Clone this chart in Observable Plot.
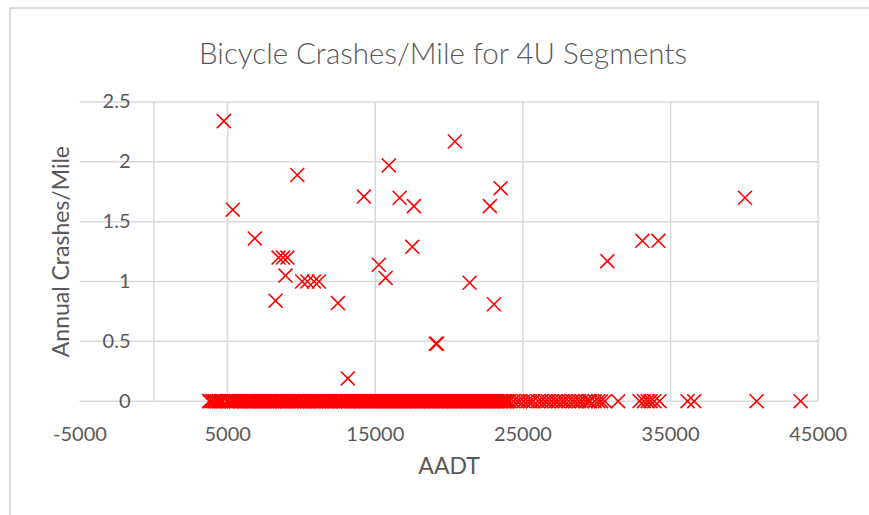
<!DOCTYPE html>
<html><head><meta charset="utf-8">
<script src="https://cdn.jsdelivr.net/npm/d3@7"></script>
<script src="https://cdn.jsdelivr.net/npm/@observablehq/plot@0.6"></script>
<style>
body{margin:0;background:#fff;width:869px;height:515px;overflow:hidden;position:relative;font-family:Lato,"Open Sans",sans-serif;}
#frame{position:absolute;left:9px;top:7px;width:900px;height:560px;border-left:2px solid #d9d9d9;border-top:2px solid #d9d9d9;}
#title{position:absolute;left:0;top:38px;width:886px;text-align:center;font-size:29.5px;font-weight:300;color:#595959;line-height:30px;white-space:nowrap;}
#chart{position:absolute;left:0;top:0;}
</style></head><body>
<div id="frame"></div>
<div id="title">Bicycle Crashes/Mile for 4U Segments</div>
<div id="chart"></div>
<script>
// Axis ticks
const xTicks = [-5000, 5000, 15000, 25000, 35000, 45000];
const xGridTicks = [5000, 15000, 25000, 35000, 45000];
const yTicks = [0, 0.5, 1, 1.5, 2, 2.5];

// Segments with at least one crash: AADT and annual crashes per mile
const crashAadt = [4740, 9716, 5350, 15920, 14230, 16650, 6840, 20390, 23490, 17615, 22765, 17505,
  8450, 8750, 9050, 8920, 10050, 10400, 10850, 11180, 8245, 12470, 13140, 15240, 15700,
  21390, 23040, 19100, 19180, 30720, 40040, 33090, 34170];
const crashRate = [2.34, 1.89, 1.60, 1.97, 1.71, 1.70, 1.36, 2.17, 1.78, 1.63, 1.63, 1.29,
  1.20, 1.20, 1.20, 1.05, 1.00, 1.00, 1.00, 1.00, 0.84, 0.82, 0.19, 1.14, 1.03,
  0.99, 0.81, 0.48, 0.48, 1.17, 1.70, 1.34, 1.34];

// Segments with zero crashes: AADT only (rate 0)
const zeroAadt = [3750, 3820, 3960, 4050, 4130, 4270, 4390, 4440, 4560, 4680, 4940, 5020, 5110, 5240, 5300,
  5420, 5560, 5610, 5730, 5850, 5920, 6060, 6150, 6230, 6370, 6450, 6590, 6640, 6780, 6890, 6950,
  7080, 7200, 7260, 7390, 7510, 7580, 7700, 7830, 7900, 8010, 8140, 8220, 8350, 8430, 8560, 8690,
  8740, 8870, 8990, 9050, 9180, 9310, 9390, 9500, 9620, 9710, 9840, 9920, 10040, 10170, 10230,
  10360, 10480, 10550, 10670, 10790, 10860, 10990, 11080, 11200, 11330, 11410, 11520, 11650,
  11720, 11850, 11960, 12030, 12160, 12280, 12350, 12470, 12590, 12660, 12790, 12880, 13000,
  13130, 13190, 13320, 13440, 13520, 13630, 13760, 13830, 13950, 14070, 14140, 14270, 14390,
  14460, 14580, 14700, 14770, 14890, 15010, 15080, 15200, 15330, 15390, 15510, 15640, 15700,
  15830, 15950, 16020, 16140, 16260, 16330, 16450, 16580, 16640, 16770, 16890, 16960, 17080,
  17200, 17270, 17390, 17520, 17580, 17700, 17830, 17900, 18020, 18140, 18210, 18330, 18460,
  18520, 18640, 18770, 18830, 18960, 19080, 19150, 19270, 19390, 19460, 19580, 19710, 19770,
  19900, 20020, 20090, 20210, 20340, 20400, 20520, 20650, 20710, 20840, 20960, 21030, 21150,
  21280, 21340, 21460, 21590, 21650, 21780, 21900, 21970, 22090, 22220, 22280, 22400, 22530,
  22590, 22720, 22840, 22910, 23030, 23160, 23220, 23340, 23470, 23530, 23660, 23780, 23850,
  23970, 24100, 24350, 24600, 24800, 25050, 25300, 25500, 25700, 26020, 26250, 26500, 26700,
  26950, 27200, 27400, 27650, 27850, 28100, 28350, 28550, 28800, 29000, 29250, 29450, 29550,
  29850, 30100, 30300, 30550, 31450, 32900, 33200, 33450, 33650, 33900, 34250, 36150, 36600,
  40830, 43810];

const points = [
  ...zeroAadt.map(a => ({aadt: a, rate: 0})),
  ...crashAadt.map((a, i) => ({aadt: a, rate: crashRate[i]}))
];

const textColor = "#595959";
const gridColor = "#d9d9d9";

const chart = Plot.plot({
  width: 869,
  height: 515,
  marginTop: 101.5,
  marginBottom: 114.3,
  marginLeft: 79.5,
  marginRight: 51.3,
  style: {background: "transparent", fontFamily: "Lato, 'Open Sans', sans-serif", color: textColor},
  x: {domain: [-5000, 45000]},
  y: {domain: [0, 2.5]},
  marks: [
    Plot.gridY(yTicks, {stroke: gridColor, strokeOpacity: 1, strokeWidth: 1.5}),
    Plot.gridX(xGridTicks, {stroke: gridColor, strokeOpacity: 1, strokeWidth: 1.5}),
    Plot.ruleX([0], {stroke: gridColor, strokeWidth: 1.5}),
    Plot.axisX(xTicks, {tickSize: 0, tickPadding: 26, fontSize: 20, fill: textColor, tickFormat: d => String(d), label: null}),
    Plot.axisY(yTicks, {tickSize: 0, tickPadding: 3, dx: 53.5, fontSize: 20, fill: textColor, tickFormat: d => String(d), label: null}),
    Plot.dot(points, {x: "aadt", y: "rate", symbol: "times", r: 6.4, stroke: "#ff0000", strokeWidth: 1.6}),
    Plot.text(["AADT"], {frameAnchor: "bottom", dy: 73, fontSize: 23, fill: textColor}),
    Plot.text(["Annual Crashes/Mile"], {frameAnchor: "left", textAnchor: "middle", dx: -18.5, rotate: -90, fontSize: 23, fill: textColor})
  ]
});
document.getElementById("chart").appendChild(chart);
</script>
</body></html>
